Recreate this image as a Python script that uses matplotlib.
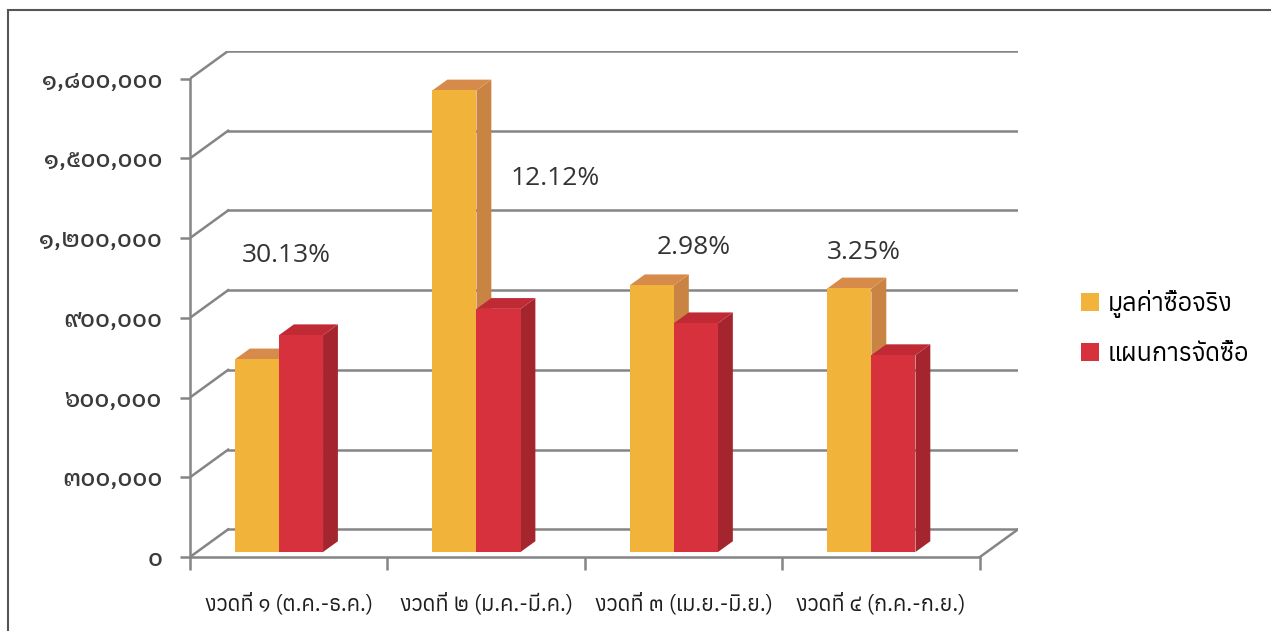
import matplotlib
matplotlib.use("Agg")
import matplotlib.pyplot as plt
from matplotlib.patches import Polygon, Rectangle

categories = ["งวดที่ ๑ (ต.ค.-ธ.ค.)", "งวดที่ ๒ (ม.ค.-มี.ค.)",
              "งวดที่ ๓ (เม.ย.-มิ.ย.)", "งวดที่ ๔ (ก.ค.-ก.ย.)"]
series_names = ["มูลค่าซื้อจริง", "แผนการจัดซื้อ"]
actual = [725000, 1737000, 1004000, 992000]
plan = [816000, 915000, 861000, 741000]
pct_labels = ["30.13%", "12.12%", "2.98%", "3.25%"]
yticks = [0, 300000, 600000, 900000, 1200000, 1500000, 1800000]

thai_digits = str.maketrans("0123456789", "๐๑๒๓๔๕๖๗๘๙")
ytick_font = ["IBM Plex Sans Thai Looped", "Loma", "DejaVu Sans"]
label_font = ["Anuphan", "IBM Plex Sans Thai", "DejaVu Sans"]

W, H = 1271, 631
fig = plt.figure(figsize=(W / 100, H / 100), dpi=100)

# depth offset of the 3d box, in data units
DX = 0.193
DY = 104000
ax = fig.add_axes([190 / W, (H - 557) / H, (1018 - 190) / W, (557 - 51) / H])
ax.set_xlim(0, 4 + DX)
ax.set_ylim(0, 1800000 + DY)
ax.patch.set_visible(False)

grid_c = "#858585"
for v in yticks:
    ax.plot([DX, 4 + DX], [v + DY, v + DY], color=grid_c, lw=1.8, zorder=1)
    ax.plot([0, DX], [v, v + DY], color=grid_c, lw=1.8, zorder=1)
ax.plot([4, 4 + DX], [0, DY], color=grid_c, lw=1.8, zorder=1)

# bars: front face, top and right side
L, BW = 0.193, 0.223
f0, f1 = 0.18, 0.57
faces = [("#f2b33b", "#d68b4a", "#c98443"), ("#d8313e", "#c02a35", "#a5252e")]
for s, vals in enumerate([actual, plan]):
    front_c, top_c, side_c = faces[s]
    for i, v in enumerate(vals):
        x0 = i + L + s * BW + f0 * DX
        y0 = f0 * DY
        y1 = v + f0 * DY
        ddx = (f1 - f0) * DX
        ddy = (f1 - f0) * DY
        ax.add_patch(Polygon([(x0 + BW, y0), (x0 + BW + ddx, y0 + ddy),
                              (x0 + BW + ddx, y1 + ddy), (x0 + BW, y1)],
                             closed=True, fc=side_c, ec="none", zorder=3 + s))
        ax.add_patch(Polygon([(x0, y1), (x0 + BW, y1), (x0 + BW + ddx, y1 + ddy),
                              (x0 + ddx, y1 + ddy)],
                             closed=True, fc=top_c, ec="none", zorder=3 + s))
        ax.add_patch(Rectangle((x0, y0), BW, v, fc=front_c, ec="none", zorder=3 + s))

# percentage labels
pct_pos = [(0.49, 1136000), (1.85, 1426000), (2.55, 1166000), (3.41, 1144000)]
for (px, py), t in zip(pct_pos, pct_labels):
    ax.text(px, py, t, ha="center", va="center", fontsize=19,
            family=["Open Sans", "DejaVu Sans"], color="#333333", zorder=6)

for side in ["top", "right"]:
    ax.spines[side].set_visible(False)
ax.spines["left"].set_bounds(0, 1800000)
ax.spines["bottom"].set_bounds(0, 4)
for side in ["left", "bottom"]:
    ax.spines[side].set_color(grid_c)
    ax.spines[side].set_linewidth(1.8)

ax.set_yticks(yticks)
ax.set_yticklabels([f"{v:,}".translate(thai_digits) for v in yticks],
                   fontsize=17, fontweight="medium", family=ytick_font, color="#3a3a3a")
ax.set_xticks([0, 1, 2, 3, 4])
ax.set_xticklabels([])
ax.set_xticks([0.5, 1.5, 2.5, 3.5], minor=True)
ax.set_xticklabels(categories, minor=True, fontsize=15.5, fontweight="medium",
                   family=label_font, color="#1e1e1e")
ax.tick_params(axis="x", which="major", length=9, color=grid_c, width=1.8)
ax.tick_params(axis="x", which="minor", length=0, pad=26)
ax.tick_params(axis="y", length=7, color=grid_c, width=1.8, pad=13)

# legend
handles = [Rectangle((0, 0), 1, 1, fc=faces[s][0]) for s in range(2)]
fig.legend(handles, series_names, loc="center left", bbox_to_anchor=(1058 / W, 1 - 328 / H),
           frameon=False, prop={"family": label_font, "size": 18},
           handlelength=0.75, handleheight=0.75, handletextpad=0.35, labelspacing=1.0)

# chart border
fig.add_artist(Rectangle((8 / W, -0.1), 1.2, 1 - 10 / H + 0.1, transform=fig.transFigure,
                         fill=False, ec="#555555", lw=1.5))

fig.savefig("out.png", dpi=100)
